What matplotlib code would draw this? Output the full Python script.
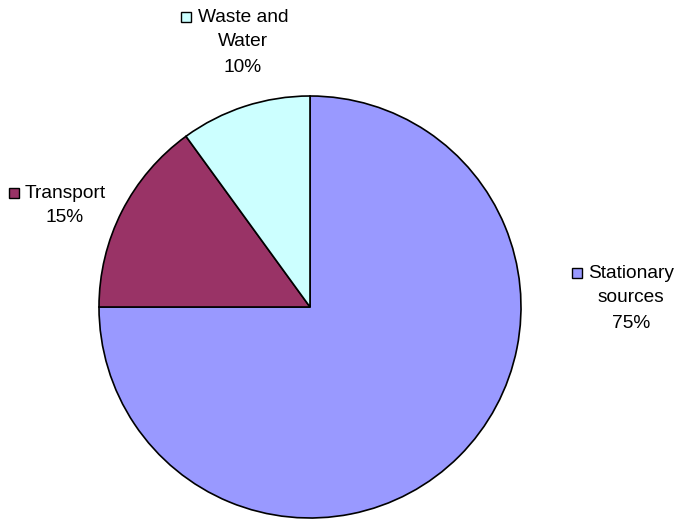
import matplotlib.pyplot as plt

labels = ["Stationary\nsources", "Transport", "Waste and\nWater"]
shares = [75, 15, 10]
colors = ["#9999FF", "#993366", "#CCFFFF"]

# label anchor (text centre x, first-line y) and legend key x, in pixels
label_pos = [(631, 273), (65, 193), (243, 17)]
key_x = [577, 14, 186]

plt.rcParams['font.family'] = ['Liberation Sans', 'DejaVu Sans']

fig = plt.figure(figsize=(6.74, 5.2), dpi=100)
ax = fig.add_axes([0, 0, 1, 1])

ax.pie(shares, colors=colors, startangle=90, counterclock=False,
       center=(310, 520 - 307), radius=211, frame=True,
       wedgeprops=dict(edgecolor='black', linewidth=1.2))
ax.set_xlim(0, 674)
ax.set_ylim(0, 520)
ax.set_aspect('equal')
ax.axis('off')

for lab, pct, (cx, cy), kx, col in zip(labels, shares, label_pos, key_x, colors):
    lines = lab.split("\n") + [f"{pct}%"]
    for i, line in enumerate(lines):
        ax.text(cx, 520 - (cy + 25 * i), line, ha='center', va='center',
                fontsize=13.8, color='black')
    ax.plot(kx, 520 - cy, marker='s', markersize=7, color=col,
            markeredgecolor='black', markeredgewidth=1)

fig.savefig("out.png", dpi=100)
